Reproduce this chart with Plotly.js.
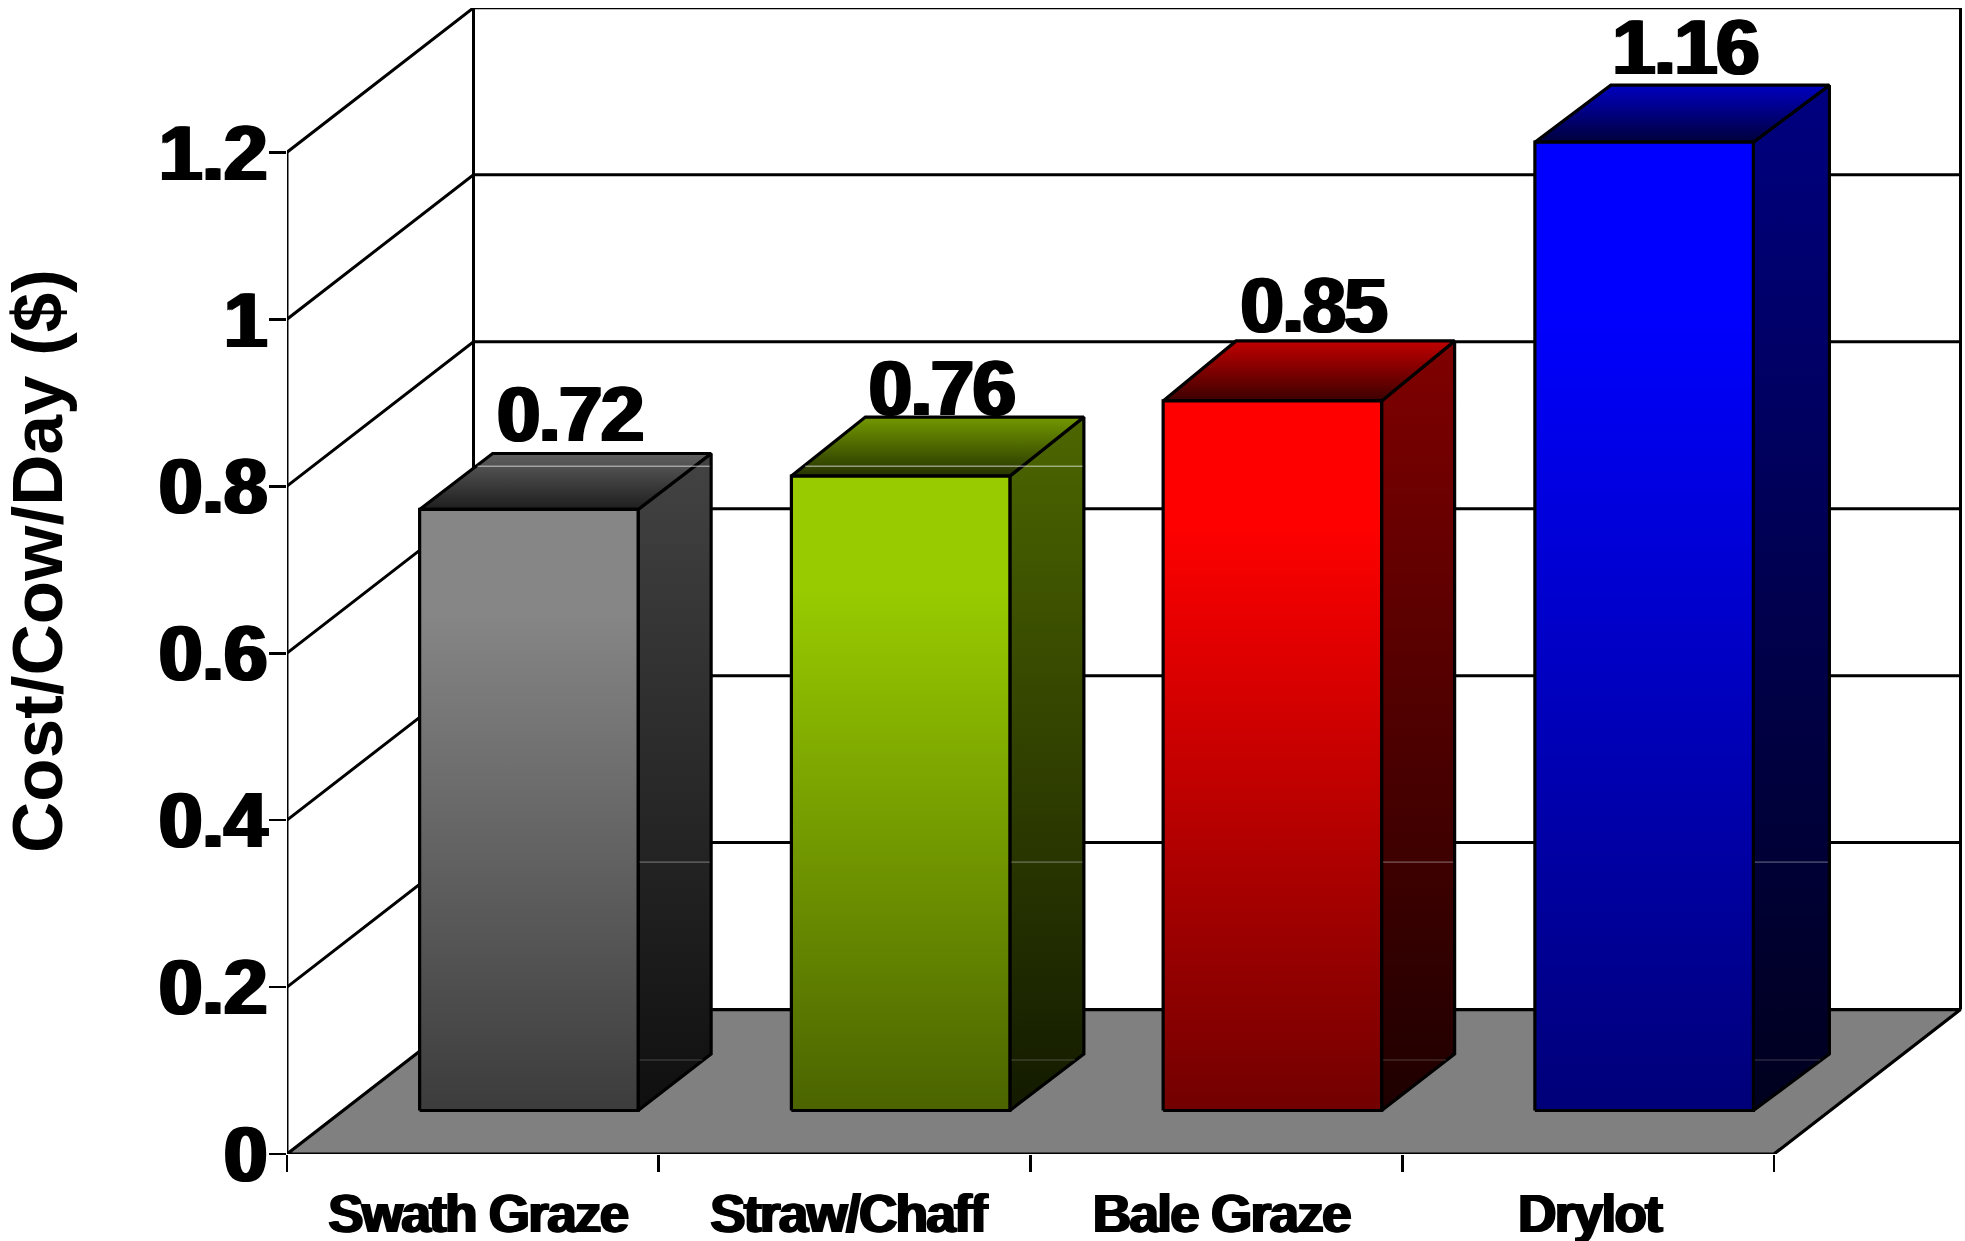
<!DOCTYPE html>
<html>
<head>
<meta charset="utf-8">
<script src="https://cdn.plot.ly/plotly-3.0.1.min.js"></script>
<style>
html,body{margin:0;padding:0;background:#fff;overflow:hidden}
#chart{width:1965px;height:1241px}
.xtick text{letter-spacing:-1.7px}
.textpoint text{letter-spacing:-1.5px}
.g-ytitle{transform:translate(-73px,-20px)}
</style>
</head>
<body>
<div id="chart"></div>
<script>
// ---- data ----
const categories = ["Swath Graze", "Straw/Chaff", "Bale Graze", "Drylot"];
const costValues = [0.72, 0.76, 0.85, 1.16];
const valueLabels = ["0.72", "0.76", "0.85", "1.16"];
const yTickValues = [0, 0.2, 0.4, 0.6, 0.8, 1, 1.2];
const yTickLabels = ["0", "0.2", "0.4", "0.6", "0.8", "1", "1.2"];
const yAxisTitle = "Cost/Cow/Day ($)";

// ---- colours: [bottom, top] of each face ----
const frontColors = [["#3c3c3c","#868686"],["#4b6400","#99cc00"],["#720000","#ff0000"],["#000078","#0000ff"]];
const sideColors  = [["#0f0f0f","#434343"],["#131a00","#4d6600"],["#1e0000","#800000"],["#00001e","#000080"]];
const topColors   = [["#1e1e1e","#606060"],["#263300","#739900"],["#3c0000","#c00000"],["#00003c","#0000c0"]];

// ---- pseudo-3D geometry, in axis units ----
const PX_X = 371.75, PX_Y = 835;            // axis scale of one unit
const wallDX = 186.5 / PX_X, wallDY = 144.5 / PX_Y;   // chart depth
const barDX = 56 / PX_X, barDY = 43.5 / PX_Y;         // front of bars behind the axis plane
const sideDXs = [73, 74, 73, 76].map(v => v / PX_X);  // bar depth
const sideDY = 56.5 / PX_Y;
const topDYs = [56, 59, 60, 57].map(v => v / PX_Y);
const barW = 218.5 / PX_X;
const labelDX = 41 / PX_X;
const labelLift = [31.5, 21.5, 28.5, 31].map(v => v / PX_Y);
const xLabelNudge = [5, 3.5, 5, 1.5].map(v => v / PX_X);
const yTop = yTickValues[yTickValues.length - 1];
const nCat = categories.length;

const traces = [];
function line(x, y, width, color) {
  traces.push({type:"scatter", mode:"lines", x, y, cliponaxis:false, hoverinfo:"skip", showlegend:false,
    line:{color:color || "#000", width:width || 3, simplify:false}});
}
function face(x, y, stops, width) {
  traces.push({type:"scatter", mode:"lines", x, y, fill:"toself", cliponaxis:false, hoverinfo:"skip", showlegend:false,
    line:{color:"#000", width:width || 3.2, simplify:false},
    fillcolor:stops[stops.length-1][1],
    fillgradient:{type:"vertical", colorscale:stops}});
}

// floor
traces.push({type:"scatter", mode:"lines", x:[0,nCat,nCat+wallDX,wallDX,0], y:[0,0,wallDY,wallDY,0], fill:"toself",
  fillcolor:"#808080", cliponaxis:false, hoverinfo:"skip", showlegend:false, line:{color:"#000", width:3.2, simplify:false}});

// walls
line([0,0],[0,yTop]);
line([wallDX,wallDX],[wallDY,yTop+wallDY]);
line([nCat+wallDX,nCat+wallDX],[wallDY,yTop+wallDY]);
yTickValues.slice(1).forEach(v => {
  line([0,wallDX,nCat+wallDX],[v,v+wallDY,v+wallDY]);
});

// bars
costValues.forEach((v, i) => {
  const sideDX = sideDXs[i], topDY = topDYs[i];
  const x0 = i + 0.5 - barW/2 + barDX, x1 = x0 + barW;
  const b = barDY, t = barDY + v;
  const xa = [x0, x1, x1, x0, x0], ya = [b, b, t, t, b];
  face([x1, x1+sideDX, x1+sideDX, x1, x1], [b, b+sideDY, t+topDY, t, b],
       [[0,sideColors[i][0]],[1,sideColors[i][1]]]);
  face([x0, x1, x1+sideDX, x0+sideDX, x0], [t, t, t+topDY, t+topDY, t],
       [[0,topColors[i][0]],[1,topColors[i][1]]]);
  face(xa, ya, [[0,frontColors[i][0]],[0.83,frontColors[i][1]],[1,frontColors[i][1]]]);
  // thin scan lines that cross the bar side faces
  const s1 = 292 / PX_Y, s2 = 94 / PX_Y;
  line([x1+0.004, x1+sideDX-0.004],[s1,s1], 1, "rgba(200,200,200,0.55)");
  line([x1+0.004, x1+sideDX*0.88],[s2,s2], 1, "rgba(200,200,200,0.3)");
  // light line across the top of the two lower bars
  const h = 688 / PX_Y;
  if (t < h && t + topDY > h) {
    const f = (h - t) / topDY;
    line([x0 + sideDX*f + 0.004, x1 + sideDX - 0.004],[h,h], 1, "rgba(235,235,235,0.8)");
  }
});

// value labels
traces.push({type:"scatter", mode:"text", cliponaxis:false, hoverinfo:"skip", showlegend:false,
  x: costValues.map((v,i) => i + 0.5 + barDX + labelDX),
  y: costValues.map((v,i) => v + barDY + topDYs[i] + labelLift[i]),
  text: valueLabels, textposition:"middle center",
  textfont:{family:"Liberation Sans, Arial, sans-serif", size:78, color:"#000", weight:700, shadow:"1.8px 0 0 #000,-1.8px 0 0 #000"}});

const layout = {
  width:1965, height:1241, showlegend:false, hovermode:false,
  paper_bgcolor:"#fff", plot_bgcolor:"#fff",
  margin:{l:287, r:2, t:7.5, b:87.2, pad:0},
  xaxis:{
    range:[0, 1676/PX_X], showgrid:false, zeroline:false, showline:false,
    tickmode:"array", tickvals:categories.map((c,i)=>i+0.5+xLabelNudge[i]), ticktext:categories,
    ticks:"", ticklabelstandoff:24,
    tickfont:{family:"Liberation Sans, Arial, sans-serif", size:53, color:"#000", weight:700, shadow:"1.3px 0 0 #000,-1.3px 0 0 #000"},
    minor:{ticks:"outside", tickmode:"array", tickvals:Array.from({length:nCat+1},(_, i)=>i), ticklen:17, tickwidth:2.8, tickcolor:"#000", showgrid:false}
  },
  yaxis:{
    range:[0, 1146.3/PX_Y], showgrid:false, zeroline:false, showline:false,
    tickmode:"array", tickvals:yTickValues, ticktext:yTickLabels,
    ticks:"outside", ticklen:17, tickwidth:2.8, tickcolor:"#000", ticklabelstandoff:-14,
    tickfont:{family:"Liberation Sans, Arial, sans-serif", size:78, color:"#000", weight:700, shadow:"2px 0 0 #000,-2px 0 0 #000"},
    title:{text:yAxisTitle, standoff:0, font:{family:"Liberation Sans, Arial, sans-serif", size:71, color:"#000", weight:700}}
  }
};
Plotly.newPlot("chart", traces, layout, {displayModeBar:false, staticPlot:true});
</script>
</body>
</html>
